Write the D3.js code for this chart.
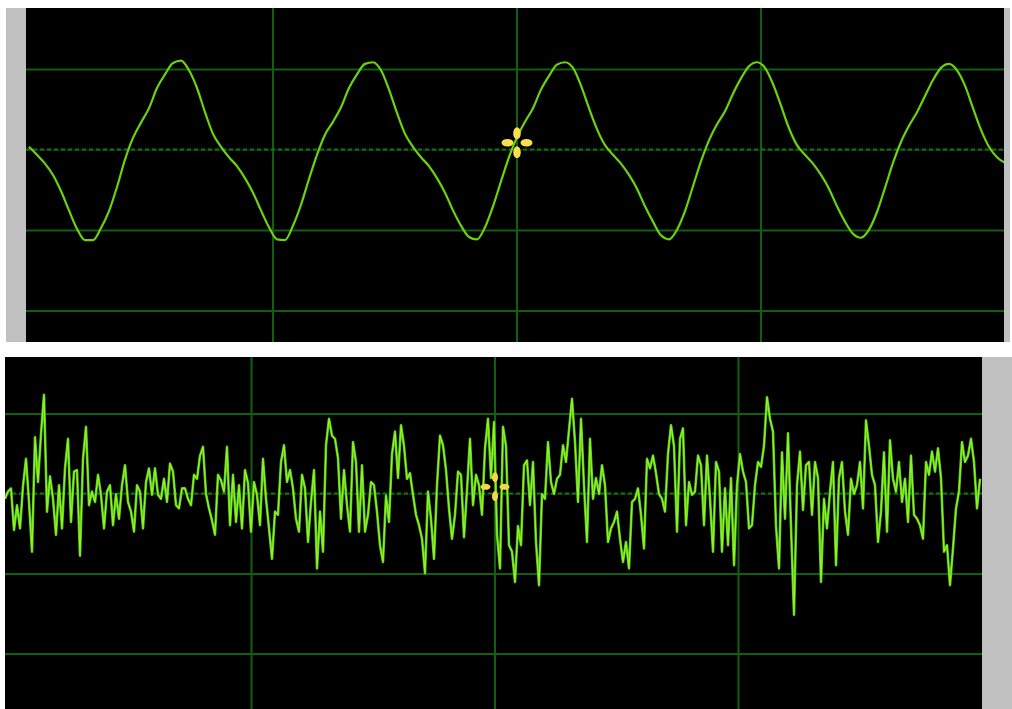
<!DOCTYPE html>
<html>
<head>
<meta charset="utf-8">
<script src="https://cdn.jsdelivr.net/npm/d3@7"></script>
<style>
  html, body { margin: 0; padding: 0; background: #ffffff; }
  svg { display: block; }
</style>
</head>
<body>
<svg id="scope" width="1012" height="709"></svg>
<script>
// Channel A: periodic waveform, one sample every topDt divisions (values in 1/100 division)
const topStart = 0;
const topDt = 8 / 244;
const topWave = [
  4, -6, -17, -31, -51, -75, -98, -112, -112, -97,
  -76, -46, -12, 15, 34, 52, 77, 94, 108, 111,
  99, 77, 47, 20, 4, -9, -20, -35, -53, -75,
  -96, -111, -112, -94, -68, -36, -6, 19, 35, 53,
  77, 94, 107, 109, 99, 75, 46, 20, 4, -9,
  -20, -35, -53, -75, -94, -108, -111, -96, -70, -39,
  -9, 16, 35, 52, 75, 92, 106, 109, 102, 80,
  52, 26, 6, -6, -17, -31, -48, -70, -89, -106,
  -111, -99, -76, -45, -14, 12, 32, 48, 70, 89,
  104, 109, 102, 82, 55, 27, 6, -6, -17, -31,
  -48, -70, -89, -104, -109, -99, -77, -47, -16, 10,
  30, 47, 67, 87, 102, 107, 99, 80, 52, 25,
  4, -9, -16
];

// Channel B: noisy signal, sampled every botDt divisions (values in 1/100 division)
const botStart = -3 / 243.5;
const botDt = 3 / 243.5;
const bottomWave = [
  -6, 3, 7, -45, -14, -43, 10, 44, -10, -72,
  71, 15, 75, 124, -22, 22, -6, -51, 11, -43,
  32, 69, -35, 28, 30, -77, 44, 84, -14, 3,
  -10, 24, -1, -43, 3, 11, -39, 0, -31, 11,
  36, -10, -22, -47, 11, 3, -43, 15, 32, -1,
  32, -1, -6, 19, -10, 38, 28, -14, -18, 7,
  7, -6, -14, 24, 19, 48, 59, 0, -18, -33,
  -51, 24, 17, 3, 59, -39, 24, -35, 11, -43,
  30, 14,
  -47, 15, -1, -39, 44, -6, -43, -81, -22, -26,
  40, 61, 15, 30, 7, -31, -47, 24, 7, -60,
  -10, 30, -93, -22, -72, 61, 94, 73, 69, 45,
  -31, 30, -14, -47, 65, 40, -47, 36, -47, -26,
  15, 11, -22, -64, -85, -2, -35, 50, 78, 20,
  86, 60, 19, 26, -1, -26, -39, -56, -99, 3,
  -31, -81, 11, 73, 61, 30, -18, -56, -26, 28,
  24, -54, 5, 69, -14, 24, 11, -26, 57, 94,
  20, 90,
  -51, -93, 84, 60, -64, -72, -110, -40, -64, 36,
  42, -14, 40, -60, -114, 0, -6, 65, 15, 0,
  19, 24, 61, 40, 80, 119, 65, -10, 94, 11,
  -60, 69, -6, 20, 0, 36, 11, -60, -43, -35,
  -22, -56, -85, -60, -93, -10, -6, 7, -26, -68,
  44, 32, 48, 26, 0, -6, -22, 50, 86, 60,
  -47, 69, 82, -39, 15, -1, 3, 48, 36, -39,
  48, -6, -72, 40, 28, -72, 7, -64, 20, -89,
  11, 50,
  28, 15, -43, -39, 11, 40, 34, 60, 121, 94,
  78, -40, -93, 52, -31, 76, -40, -151, 11, 53,
  -20, 36, 40, -26, 40, 20, -110, -6, -43, 3,
  40, -89, 20, 40, -22, -51, 19, 0, 11, 40,
  -18, 92, 60, 24, 11, -60, -22, 52, -47, 67,
  19, 3, 40, -10, 19, -35, 48, -26, -31, -39,
  -56, 40, 24, 53, 28, 57, 20, -72, -64, -114,
  -68, -18, 3, 65, 40, 48, 69, 40, -18, 19
];

// Graticule: horizontal levels (1/100 division) and vertical time divisions
const gridLevels = [100, -100, -200];
const centerLevel = [0];
const gridTimes = [1, 2, 3];

// Trigger cursor (time in divisions, level in 1/100 division)
const cursorTime = [2];
const cursorLevel = [9];

const svg = d3.select("#scope");

const panels = [
  {
    id: "a", wave: topWave, start: topStart, dt: topDt,
    frame: { x: 26, y: 8, w: 978, h: 334 },
    xRange: [29, 1005], yRange: [311, 69.5],
    bars: [{ x: 6, y: 8, w: 20, h: 334 }, { x: 1004, y: 8, w: 6, h: 334 }],
    curve: d3.curveMonotoneX,
    traces: [{ color: "#6ad40a", width: 2.2 }],
    petal: { off: 9.5, rx: 6, ry: 3.8, color: "#f6e04c" }
  },
  {
    id: "b", wave: bottomWave, start: botStart, dt: botDt,
    frame: { x: 5, y: 357, w: 977, h: 352 },
    xRange: [8, 982], yRange: [654, 414],
    bars: [{ x: 982, y: 357, w: 30, h: 352 }],
    curve: d3.curveLinear,
    traces: [{ color: "#58c012", width: 2.6 }, { color: "#8cf52a", width: 1.2 }],
    petal: { off: 9.5, rx: 5, ry: 3, color: "#f2d844" }
  }
];

panels.forEach(p => {
  const x = d3.scaleLinear().domain([0, 4]).range(p.xRange);
  const y = d3.scaleLinear().domain([-200, 100]).range(p.yRange);
  const g = svg.append("g");

  // side bars
  g.selectAll("rect.bar").data(p.bars).join("rect")
    .attr("class", "bar")
    .attr("x", d => d.x).attr("y", d => d.y)
    .attr("width", d => d.w).attr("height", d => d.h)
    .attr("fill", "#c0c0c0");

  // screen
  g.append("rect")
    .attr("x", p.frame.x).attr("y", p.frame.y)
    .attr("width", p.frame.w).attr("height", p.frame.h)
    .attr("fill", "#000000");

  const clipId = "clip-" + p.id;
  svg.append("clipPath").attr("id", clipId).append("rect")
    .attr("x", p.frame.x).attr("y", p.frame.y)
    .attr("width", p.frame.w).attr("height", p.frame.h);

  const screen = g.append("g").attr("clip-path", `url(#${clipId})`);

  // graticule
  screen.selectAll("line.h").data(gridLevels).join("line")
    .attr("class", "h")
    .attr("x1", p.frame.x).attr("x2", p.frame.x + p.frame.w)
    .attr("y1", d => y(d)).attr("y2", d => y(d))
    .attr("stroke", "#125e12").attr("stroke-width", 2);

  screen.selectAll("line.v").data(gridTimes).join("line")
    .attr("class", "v")
    .attr("x1", d => x(d)).attr("x2", d => x(d))
    .attr("y1", p.frame.y).attr("y2", p.frame.y + p.frame.h)
    .attr("stroke", "#125e12").attr("stroke-width", 2);

  screen.selectAll("line.c0").data(centerLevel).join("line")
    .attr("class", "c0")
    .attr("x1", p.frame.x).attr("x2", p.frame.x + p.frame.w)
    .attr("y1", d => y(d)).attr("y2", d => y(d))
    .attr("stroke", "#0e4c0e").attr("stroke-width", 1);
  screen.selectAll("line.c1").data(centerLevel).join("line")
    .attr("class", "c1")
    .attr("x1", p.frame.x).attr("x2", p.frame.x + p.frame.w)
    .attr("y1", d => y(d) - 0.5).attr("y2", d => y(d) - 0.5)
    .attr("stroke", "#1a701a").attr("stroke-width", 2.2)
    .attr("stroke-dasharray", "4,3");

  // trace
  const line = d3.line()
    .x((d, i) => x(p.start + i * p.dt))
    .y(d => y(d))
    .curve(p.curve);

  p.traces.forEach(t => {
    screen.append("path")
      .datum(p.wave)
      .attr("d", line)
      .attr("fill", "none")
      .attr("stroke", t.color)
      .attr("stroke-width", t.width)
      .attr("stroke-linejoin", "round");
  });

  // cursor: four petals around the trigger point
  const cx = x(cursorTime[0]), cy = y(cursorLevel[0]);
  const petals = [
    { dx: 0, dy: -1, rot: 90 }, { dx: 0, dy: 1, rot: 90 },
    { dx: -1, dy: 0, rot: 0 }, { dx: 1, dy: 0, rot: 0 }
  ];
  screen.selectAll("ellipse.petal").data(petals).join("ellipse")
    .attr("class", "petal")
    .attr("cx", 0).attr("cy", 0)
    .attr("rx", p.petal.rx).attr("ry", p.petal.ry)
    .attr("transform", d => `translate(${cx + d.dx * p.petal.off},${cy + d.dy * p.petal.off}) rotate(${d.rot})`)
    .attr("fill", p.petal.color);
});
</script>
</body>
</html>
